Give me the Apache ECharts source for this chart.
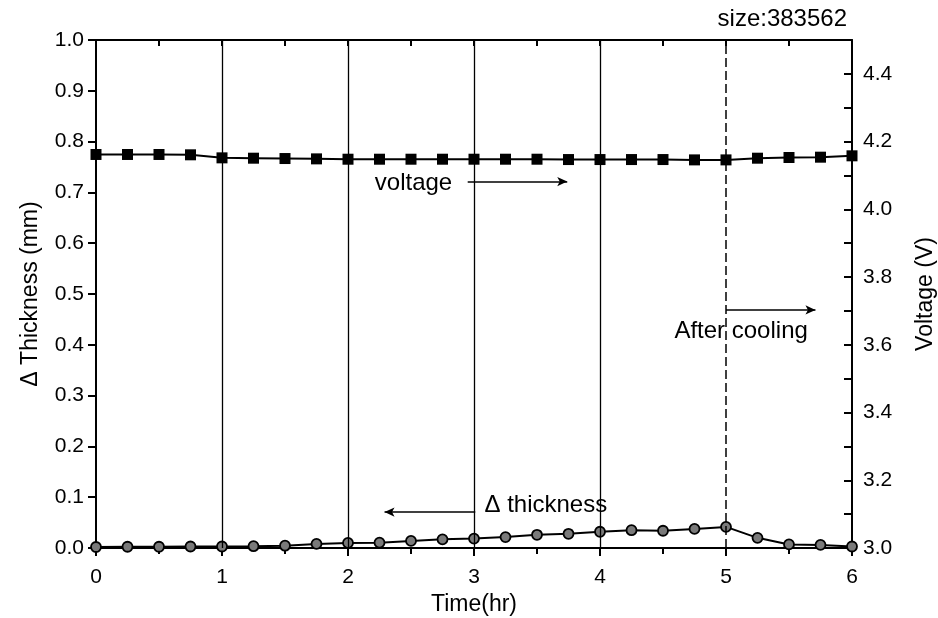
<!DOCTYPE html>
<html>
<head>
<meta charset="utf-8">
<script src="https://cdn.jsdelivr.net/npm/echarts@6/dist/echarts.min.js"></script>
<style>
  html, body { margin: 0; padding: 0; background: #fff; }
  #chart { width: 938px; height: 618px; }
</style>
</head>
<body>
<div id="chart"></div>
<script>
// Sampling times (hours)
const timeHr = [0, 0.25, 0.5, 0.75, 1, 1.25, 1.5, 1.75, 2, 2.25, 2.5, 2.75, 3,
                3.25, 3.5, 3.75, 4, 4.25, 4.5, 4.75, 5, 5.25, 5.5, 5.75, 6];
// Change in cell thickness (mm)
const thicknessMm = [0.002, 0.0025, 0.0025, 0.003, 0.003, 0.0035, 0.0045, 0.008, 0.010,
                     0.0105, 0.014, 0.017, 0.0185, 0.0215, 0.026, 0.028, 0.032, 0.035,
                     0.034, 0.0375, 0.0415, 0.020, 0.007, 0.006, 0.003];
// Cell voltage (V)
const voltageV = [4.162, 4.162, 4.162, 4.161, 4.152, 4.151, 4.150, 4.149, 4.148,
                  4.148, 4.148, 4.148, 4.148, 4.148, 4.148, 4.147, 4.147, 4.147,
                  4.147, 4.146, 4.146, 4.151, 4.153, 4.154, 4.158];
// Vertical reference lines (hours); the last one marks the start of cooling
const solidGridHours = [1, 2, 3, 4];
const coolingStartHr = 5;

const FONT = '"Liberation Sans", Arial, sans-serif';
const chart = echarts.init(document.getElementById('chart'), null, { renderer: 'canvas' });

const thicknessPairs = timeHr.map((t, i) => [t, thicknessMm[i]]);
const voltagePairs = timeHr.map((t, i) => [t, voltageV[i]]);

const axisLineStyle = { color: '#000', width: 2 };
const tickLabel = { color: '#000', fontFamily: FONT, fontSize: 21 };
const axisName = { color: '#000', fontFamily: FONT, fontSize: 23 };

const gridLines = solidGridHours.map(h => ({ xAxis: h, lineStyle: { type: 'solid', width: 1.3, color: '#000' } }));
gridLines.push({ xAxis: coolingStartHr, lineStyle: { type: [9, 4], width: 1.5, color: '#000' } });

const noteLabel = (text) => ({
  show: true, position: 'inside', formatter: text,
  color: '#000', fontFamily: FONT, fontSize: 24
});
const note = (coord, text) => ({
  coord, symbol: 'rect', symbolSize: 1,
  itemStyle: { color: 'rgba(0,0,0,0)' }, label: noteLabel(text)
});

chart.setOption({
  animation: false,
  backgroundColor: '#fff',
  title: {
    text: 'size:383562', right: 86, top: 2,
    textStyle: { color: '#000', fontFamily: FONT, fontSize: 24, fontWeight: 'normal' }
  },
  grid: { left: 96, right: 86, top: 40, bottom: 70, outerBoundsMode: 'none', containLabel: false },
  xAxis: [
    {
      type: 'value', min: 0, max: 6, interval: 1, position: 'bottom',
      name: 'Time(hr)', nameLocation: 'middle', nameGap: 45,
      nameTextStyle: axisName,
      axisLine: { show: true, onZero: false, lineStyle: axisLineStyle },
      axisTick: { show: true, inside: false, length: 8, lineStyle: { width: 2, color: '#000' } },
      minorTick: { show: true, splitNumber: 2, length: 6, lineStyle: { width: 2, color: '#000' } },
      axisLabel: Object.assign({ margin: 19 }, tickLabel),
      splitLine: { show: false }
    },
    {
      type: 'value', min: 0, max: 6, interval: 1, position: 'top',
      axisLine: { show: true, onZero: false, lineStyle: axisLineStyle },
      axisTick: { show: true, inside: true, length: 6, lineStyle: { width: 2, color: '#000' } },
      minorTick: { show: true, splitNumber: 2, length: 6, lineStyle: { width: 2, color: '#000' } },
      axisLabel: { show: false },
      splitLine: { show: false }
    }
  ],
  yAxis: [
    {
      type: 'value', min: 0, max: 1, interval: 0.1, position: 'left',
      name: 'Δ Thickness (mm)', nameLocation: 'middle', nameGap: 54, nameRotate: 90,
      nameTextStyle: axisName,
      axisLine: { show: true, onZero: false, lineStyle: axisLineStyle },
      axisTick: { show: true, inside: false, length: 8, lineStyle: { width: 2, color: '#000' } },
      axisLabel: Object.assign({ margin: 12, formatter: v => v.toFixed(1) }, tickLabel),
      splitLine: { show: false }
    },
    {
      type: 'value', min: 3.0, max: 4.5, interval: 0.2, position: 'right',
      name: 'Voltage (V)', nameLocation: 'middle', nameGap: 62, nameRotate: 90,
      nameTextStyle: axisName,
      axisLine: { show: true, onZero: false, lineStyle: axisLineStyle },
      axisTick: { show: true, inside: true, length: 8, lineStyle: { width: 2, color: '#000' } },
      minorTick: { show: true, splitNumber: 2, length: 8, lineStyle: { width: 2, color: '#000' } },
      axisLabel: Object.assign({ margin: 11, showMaxLabel: false, formatter: v => v.toFixed(1) }, tickLabel),
      splitLine: { show: false }
    }
  ],
  series: [
    {
      name: 'thickness', type: 'line', xAxisIndex: 0, yAxisIndex: 0,
      data: thicknessPairs, symbol: 'circle', symbolSize: 10,
      lineStyle: { color: '#000', width: 2 },
      itemStyle: { color: '#7a7a7a', borderColor: '#000', borderWidth: 1.8 },
      markLine: {
        silent: true, symbol: ['none', 'none'], label: { show: false },
        data: gridLines
      },
      markPoint: {
        silent: true,
        data: [note([3.57, 0.083], 'Δ thickness')]
      },
      z: 3
    },
    {
      name: 'voltage', type: 'line', xAxisIndex: 0, yAxisIndex: 1,
      data: voltagePairs, symbol: 'rect', symbolSize: 11,
      lineStyle: { color: '#000', width: 2 },
      itemStyle: { color: '#000' },
      markLine: {
        silent: true, symbol: ['none', 'arrow'], symbolSize: [7, 10],
        label: { show: false },
        lineStyle: { color: '#000', width: 1.5, type: 'solid' },
        data: [
          [{ coord: [2.95, 4.082] }, { coord: [3.74, 4.082] }],
          [{ coord: [3.01, 3.106] }, { coord: [2.29, 3.106] }],
          [{ coord: [5.0, 3.703] }, { coord: [5.71, 3.703] }]
        ]
      },
      markPoint: {
        silent: true,
        data: [
          note([2.52, 4.076], 'voltage'),
          note([5.12, 3.640], 'After cooling')
        ]
      },
      z: 4
    }
  ]
});
</script>
</body>
</html>
